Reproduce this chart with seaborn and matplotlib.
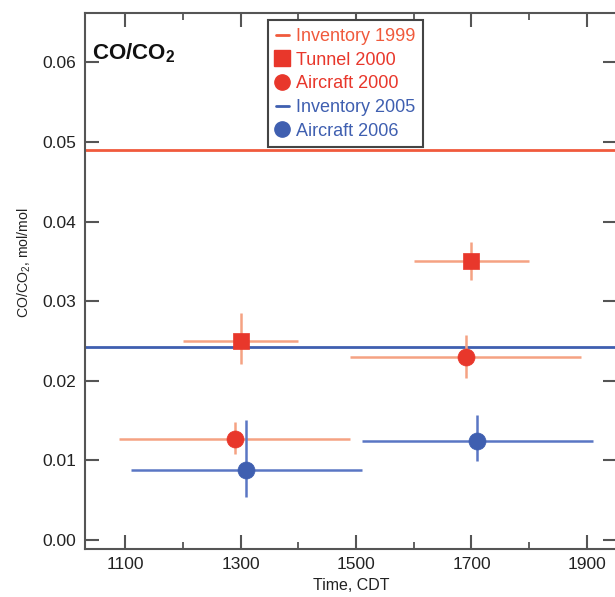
import numpy as np
import pandas as pd
import matplotlib
matplotlib.use("Agg")
import matplotlib.pyplot as plt
import seaborn as sns
from matplotlib.lines import Line2D
from matplotlib.ticker import MultipleLocator, FormatStrFormatter

# values
inventory_1999 = 0.049
inventory_2005 = 0.0243

tunnel_time = [1300, 1700]
tunnel_ratio = [0.0250, 0.0350]
tunnel_tlo = [1200, 1600]
tunnel_thi = [1400, 1800]
tunnel_rlo = [0.0221, 0.0327]
tunnel_rhi = [0.0285, 0.0374]

air2000_time = [1290, 1690]
air2000_ratio = [0.0127, 0.0230]
air2000_tlo = [1090, 1490]
air2000_thi = [1490, 1890]
air2000_rlo = [0.0108, 0.0204]
air2000_rhi = [0.0148, 0.0258]

air2006_time = [1310, 1710]
air2006_ratio = [0.0088, 0.0124]
air2006_tlo = [1110, 1510]
air2006_thi = [1510, 1910]
air2006_rlo = [0.0054, 0.0099]
air2006_rhi = [0.0151, 0.0157]

red = "#e8372b"
red_line = "#f05a3c"
salmon = "#f5a283"
blue = "#3f5fb0"
blue_err = "#5a76c4"

sns.set_style("ticks")
plt.rcParams["font.family"] = ["Liberation Sans", "DejaVu Sans"]
plt.rcParams["mathtext.fontset"] = "custom"
plt.rcParams["mathtext.rm"] = "Liberation Sans"
plt.rcParams["mathtext.bf"] = "Liberation Sans:bold"

fig = plt.figure(figsize=(6.15, 5.97), dpi=100)
ax = fig.add_axes([0.138, 0.0804, 0.865, 0.898])

ax.axhline(inventory_1999, color=red_line, lw=2, zorder=2)
ax.axhline(inventory_2005, color=blue, lw=2, zorder=2)


def draw_series(t, r, tlo, thi, rlo, rhi, ecol, mcol, marker, size):
    t = np.array(t)
    r = np.array(r)
    xerr = [t - np.array(tlo), np.array(thi) - t]
    yerr = [r - np.array(rlo), np.array(rhi) - r]
    ax.errorbar(t, r, xerr=xerr, yerr=yerr, fmt="none", ecolor=ecol,
                elinewidth=1.8, capsize=0, zorder=3)
    df = pd.DataFrame({"time": t, "ratio": r})
    sns.scatterplot(data=df, x="time", y="ratio", ax=ax, color=mcol,
                    marker=marker, s=size, edgecolor=mcol, linewidth=0.5,
                    zorder=4, legend=False)


draw_series(tunnel_time, tunnel_ratio, tunnel_tlo, tunnel_thi,
            tunnel_rlo, tunnel_rhi, salmon, red, "s", 130)
draw_series(air2000_time, air2000_ratio, air2000_tlo, air2000_thi,
            air2000_rlo, air2000_rhi, salmon, red, "o", 150)
draw_series(air2006_time, air2006_ratio, air2006_tlo, air2006_thi,
            air2006_rlo, air2006_rhi, blue_err, blue, "o", 150)

ax.set_xlim(1030, 1952)
ax.set_ylim(-0.00113, 0.0662)
ax.set_xticks([1100, 1300, 1500, 1700, 1900])
ax.xaxis.set_minor_locator(MultipleLocator(100))
ax.yaxis.set_major_locator(MultipleLocator(0.01))
ax.yaxis.set_major_formatter(FormatStrFormatter("%.2f"))

ax.tick_params(which="major", direction="in", length=10, width=1.5,
               color="#555555", labelsize=12.5, labelcolor="#222222",
               top=True, right=True, pad=6)
ax.tick_params(which="minor", direction="in", length=5, width=1.3,
               color="#555555", top=True, right=True)
for sp in ax.spines.values():
    sp.set_visible(True)
    sp.set_linewidth(1.5)
    sp.set_color("#555555")

ax.set_xlabel("Time, CDT", fontsize=11.5, color="#222222", labelpad=4)
ax.set_ylabel("CO/CO$_2$, mol/mol", fontsize=10.2, color="#222222")
ax.yaxis.set_label_coords(-0.098, 0.535)

ax.text(0.014, 0.925, r"CO/CO$_\mathbf{2}$", transform=ax.transAxes, fontsize=16,
        fontweight="bold", color="#111111", ha="left", va="center")

handles = [
    Line2D([], [], color=red_line, lw=2, label="Inventory 1999"),
    Line2D([], [], color=red, marker="s", ls="none", markersize=11, label="Tunnel 2000"),
    Line2D([], [], color=red, marker="o", ls="none", markersize=11, label="Aircraft 2000"),
    Line2D([], [], color=blue, lw=2, label="Inventory 2005"),
    Line2D([], [], color=blue, marker="o", ls="none", markersize=11, label="Aircraft 2006"),
]
leg = ax.legend(handles=handles, loc="upper left", bbox_to_anchor=(0.345, 0.986),
                fontsize=13, frameon=True, fancybox=False, handlelength=0.7,
                handletextpad=0.4, labelspacing=0.37, borderpad=0.42,
                borderaxespad=0)
leg.get_frame().set_edgecolor("#444444")
leg.get_frame().set_linewidth(1.5)
leg.get_frame().set_alpha(1)
for txt, h in zip(leg.get_texts(), handles):
    txt.set_color(h.get_color())

fig.savefig("out.png", dpi=100)
